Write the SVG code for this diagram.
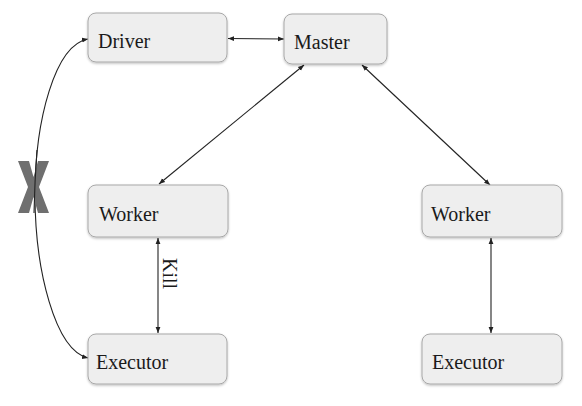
<svg xmlns="http://www.w3.org/2000/svg" width="582" height="406" viewBox="0 0 582 406">
<style>
.box{fill:#eeeeee;stroke:#a8a8a8;stroke-width:1;filter:url(#sh)}
.lbl{font-family:"Liberation Serif","Times New Roman",serif;font-size:20px;fill:#1a1a1a}
.ln{fill:none;stroke:#222;stroke-width:1.1;marker-start:url(#ah);marker-end:url(#ah)}
</style>
<defs>
<filter id="sh" x="-10%" y="-20%" width="120%" height="150%">
<feDropShadow dx="0" dy="1.2" stdDeviation="1" flood-color="#000" flood-opacity="0.25"/>
</filter>
<marker id="ah" viewBox="0 0 10 10" refX="10" refY="5" markerWidth="6" markerHeight="6" markerUnits="userSpaceOnUse" orient="auto-start-reverse">
<path d="M0,1 L10,5 L0,9 Z" fill="#222"/>
</marker>
</defs>
<rect width="582" height="406" fill="#ffffff"/>
<g id="connectors">
<line class="ln" x1="228" y1="38.5" x2="284" y2="39"/>
<line class="ln" x1="304" y1="65" x2="159" y2="184"/>
<line class="ln" x1="362" y1="65" x2="490" y2="185"/>
<line class="ln" x1="158" y1="238" x2="158" y2="333"/>
<line class="ln" x1="491" y1="238" x2="491" y2="333"/>
<path class="ln" d="M88,39 C55,45 35,120 35,195 C35,270 55,350 88,358"/>
<text class="lbl" transform="translate(163,258) rotate(90)">Kill</text>
</g>
<g id="x-mark">
<polygon points="18,161 29,161 33.5,177 38,161 49,161 39,187 49,213 38,213 33.5,197 29,213 18,213 28,187" fill="#6f6f6f"/>
<path d="M37,150 C35.5,170 34.5,190 34,213" fill="none" stroke="#222" stroke-width="1.1"/>
</g>
<g id="driver"><rect class="box" x="88" y="13" width="139" height="49" rx="8"/><text class="lbl" x="98" y="48">Driver</text></g>
<g id="master"><rect class="box" x="284" y="14" width="103" height="50" rx="8"/><text class="lbl" x="294" y="49">Master</text></g>
<g id="worker-left"><rect class="box" x="88" y="185" width="140" height="52" rx="8"/><text class="lbl" x="99" y="221">Worker</text></g>
<g id="executor-left"><rect class="box" x="88" y="334" width="139" height="50" rx="8"/><text class="lbl" x="96" y="369">Executor</text></g>
<g id="worker-right"><rect class="box" x="422" y="185" width="140" height="52" rx="8"/><text class="lbl" x="431" y="221">Worker</text></g>
<g id="executor-right"><rect class="box" x="422" y="334" width="140" height="50" rx="8"/><text class="lbl" x="432" y="369">Executor</text></g>
</svg>
